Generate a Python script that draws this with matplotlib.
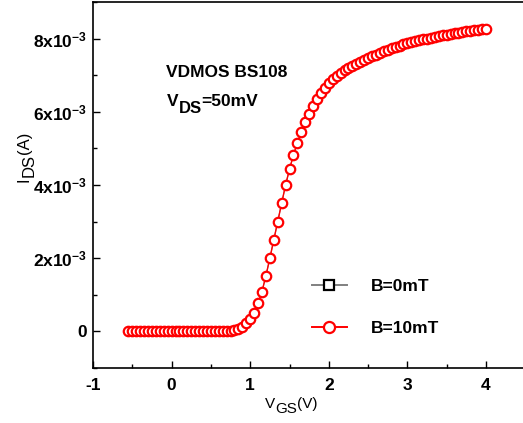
import matplotlib
matplotlib.use("Agg")
import matplotlib.pyplot as plt
from matplotlib.lines import Line2D
from matplotlib.transforms import IdentityTransform
from matplotlib.ticker import FixedLocator, FixedFormatter, MultipleLocator

plt.rcParams['font.family'] = ['Liberation Sans', 'DejaVu Sans']
plt.rcParams['mathtext.fontset'] = 'custom'
plt.rcParams['mathtext.rm'] = 'Liberation Sans'
plt.rcParams['mathtext.it'] = 'Liberation Sans'
plt.rcParams['mathtext.bf'] = 'Liberation Sans:bold'

# Gate voltage sweep (V)
vgs = [-0.55, -0.50, -0.45, -0.40, -0.35, -0.30, -0.25, -0.20, -0.15, -0.10,
       -0.05, 0.00, 0.05, 0.10, 0.15, 0.20, 0.25, 0.30, 0.35, 0.40,
       0.45, 0.50, 0.55, 0.60, 0.65, 0.70, 0.75, 0.80, 0.85, 0.90,
       0.95, 1.00, 1.05, 1.10, 1.15, 1.20, 1.25, 1.30, 1.35, 1.40,
       1.45, 1.50, 1.55, 1.60, 1.65, 1.70, 1.75, 1.80, 1.85, 1.90,
       1.95, 2.00, 2.05, 2.10, 2.15, 2.20, 2.25, 2.30, 2.35, 2.40,
       2.45, 2.50, 2.55, 2.60, 2.65, 2.70, 2.75, 2.80, 2.85, 2.90,
       2.95, 3.00, 3.05, 3.10, 3.15, 3.20, 3.25, 3.30, 3.35, 3.40,
       3.45, 3.50, 3.55, 3.60, 3.65, 3.70, 3.75, 3.80, 3.85, 3.90,
       3.95, 4.00]

# Drain current in mA (scaled to A when plotted)
ids_10mT_mA = [0.00, 0.00, 0.00, 0.00, 0.00, 0.00, 0.00, 0.00, 0.00, 0.00,
               0.00, 0.00, 0.00, 0.00, 0.00, 0.00, 0.00, 0.00, 0.00, 0.00,
               0.00, 0.00, 0.00, 0.00, 0.005, 0.01, 0.02, 0.035, 0.06, 0.13,
               0.22, 0.33, 0.49, 0.77, 1.09, 1.52, 2.00, 2.50, 3.00, 3.50,
               4.00, 4.43, 4.82, 5.15, 5.45, 5.71, 5.95, 6.15, 6.34, 6.51,
               6.66, 6.80, 6.90, 6.99, 7.07, 7.14, 7.20, 7.26, 7.31, 7.37,
               7.42, 7.47, 7.52, 7.56, 7.61, 7.65, 7.69, 7.73, 7.77, 7.80,
               7.84, 7.87, 7.90, 7.93, 7.95, 7.98, 8.00, 8.03, 8.05, 8.07,
               8.09, 8.11, 8.13, 8.15, 8.16, 8.18, 8.20, 8.21, 8.23, 8.24,
               8.26, 8.27]
ids_0mT_mA = list(ids_10mT_mA)

ytick_vals = [0, 2e-3, 4e-3, 6e-3, 8e-3]
ytick_labels = ['0', r'2x10$^{\mathbf{-3}}$', r'4x10$^{\mathbf{-3}}$',
                r'6x10$^{\mathbf{-3}}$', r'8x10$^{\mathbf{-3}}$']
xtick_vals = [-1, 0, 1, 2, 3, 4]
xtick_labels = ['-1', '0', '1', '2', '3', '4']
legend_labels = ['B=0mT', 'B=10mT']

W, H = 523, 423
fig = plt.figure(figsize=(W / 100, H / 100), dpi=100)
ax = fig.add_axes([93 / W, 55 / H, 432.3 / W, 366 / H])

ids_0 = [v * 1e-3 for v in ids_0mT_mA]
ids_10 = [v * 1e-3 for v in ids_10mT_mA]

ax.plot(vgs, ids_0, linestyle='-', color='gray', lw=0.8, marker='s',
        ms=4.6, mfc='white', mec='black', mew=0.8, zorder=2)
ax.plot(vgs, ids_10, linestyle='-', color='red', lw=1.0, marker='o',
        ms=6.8, mfc='white', mec='red', mew=1.6, zorder=3)

ax.set_xlim(-1, 4.5)
ax.set_ylim(-1e-3, 9e-3)

ax.xaxis.set_major_locator(FixedLocator(xtick_vals))
ax.xaxis.set_major_formatter(FixedFormatter(xtick_labels))
ax.xaxis.set_minor_locator(MultipleLocator(0.5))
ax.yaxis.set_major_locator(FixedLocator(ytick_vals))
ax.yaxis.set_major_formatter(FixedFormatter(ytick_labels))
ax.yaxis.set_minor_locator(MultipleLocator(1e-3))

ax.tick_params(which='both', direction='in', top=False, right=False, width=1.0)
ax.tick_params(which='major', length=5)
ax.tick_params(which='minor', length=2.6)
ax.tick_params(axis='x', which='major', pad=7, labelsize=12.5)
ax.tick_params(axis='y', which='major', pad=4, labelsize=12.5)
for lab in ax.get_xticklabels() + ax.get_yticklabels():
    lab.set_fontweight('bold')

for sp in ax.spines.values():
    sp.set_linewidth(1.2)

renderer = fig.canvas.get_renderer()


def text_run(pieces, x, y, rotation=0):
    """Write text pieces one after another in pixel coordinates; each piece
    is (string, size, weight, drop) where drop lowers it below the baseline."""
    for s, size, weight, drop in pieces:
        if rotation == 0:
            t = fig.text(x, y - drop, s, transform=IdentityTransform(),
                         ha='left', va='baseline', fontsize=size,
                         fontweight=weight)
            x = t.get_window_extent(renderer).x1
        else:
            t = fig.text(x + drop, y, s, transform=IdentityTransform(),
                         ha='left', va='baseline', rotation=90,
                         rotation_mode='anchor', fontsize=size,
                         fontweight=weight)
            y = t.get_window_extent(renderer).y1


# axis titles with full-size subscripts
text_run([('V', 11, 'normal', 0), ('GS', 11, 'normal', 5),
          ('(V)', 11, 'normal', 0)], 265, H - 408)
text_run([('I', 12, 'normal', 0), ('DS', 12, 'normal', 5),
          ('(A)', 12, 'normal', 0)], 29, H - 182, rotation=90)

# device annotation
text_run([('VDMOS BS108', 12.5, 'bold', 0)], 166, H - 77)
text_run([('V', 12.5, 'bold', 0), ('DS', 12, 'bold', 7),
          ('=50mV', 12.5, 'bold', 0)], 167, H - 106)

handles = [
    Line2D([], [], color='gray', lw=1.4, marker='s', ms=7, mfc='white',
           mec='black', mew=1.6),
    Line2D([], [], color='red', lw=1.4, marker='o', ms=8, mfc='white',
           mec='red', mew=1.6),
]
ax.legend(handles, legend_labels, loc='center left',
          bbox_to_anchor=(0.47, 0.166), frameon=False,
          prop={'weight': 'bold', 'size': 12.5}, handlelength=2.0,
          handletextpad=1.4, labelspacing=1.55)

fig.savefig('out.png', dpi=100)
